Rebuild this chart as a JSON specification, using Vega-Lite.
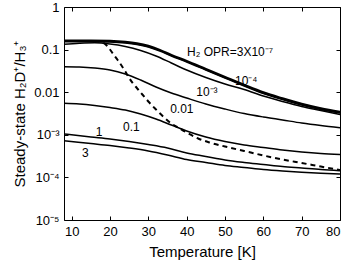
{
  "$schema": "https://vega.github.io/schema/vega-lite/v6.json",
  "autosize": "none",
  "width": 276,
  "height": 213,
  "padding": {"left": 64, "top": 7, "right": 6, "bottom": 43},
  "background": "white",
  "config": {
    "font": "Liberation Sans",
    "view": {"stroke": "black", "strokeWidth": 1},
    "axis": {"domainColor": "black", "tickColor": "black", "labelColor": "black", "titleColor": "black", "grid": false, "labelFont": "Liberation Sans", "titleFont": "Liberation Sans", "labelFontSize": 13, "titleFontSize": 15, "titleFontWeight": "normal"}
  },
  "datasets": {
    "curves": [
      {"s": "3e-7", "T": 8, "v": 0.1618}, {"s": "3e-7", "T": 15, "v": 0.1618}, {"s": "3e-7", "T": 20, "v": 0.1592}, {"s": "3e-7", "T": 24, "v": 0.1508}, {"s": "3e-7", "T": 27, "v": 0.139}, {"s": "3e-7", "T": 30, "v": 0.1215}, {"s": "3e-7", "T": 33, "v": 0.0979}, {"s": "3e-7", "T": 36, "v": 0.0747}, {"s": "3e-7", "T": 40, "v": 0.054}, {"s": "3e-7", "T": 45, "v": 0.035}, {"s": "3e-7", "T": 50, "v": 0.0227}, {"s": "3e-7", "T": 55, "v": 0.01476}, {"s": "3e-7", "T": 60, "v": 0.00984}, {"s": "3e-7", "T": 65, "v": 0.00711}, {"s": "3e-7", "T": 70, "v": 0.00528}, {"s": "3e-7", "T": 75, "v": 0.00414}, {"s": "3e-7", "T": 80, "v": 0.00343},
      {"s": "1e-4", "T": 8, "v": 0.1537}, {"s": "1e-4", "T": 15, "v": 0.1537}, {"s": "1e-4", "T": 20, "v": 0.1512}, {"s": "1e-4", "T": 24, "v": 0.1433}, {"s": "1e-4", "T": 27, "v": 0.1321}, {"s": "1e-4", "T": 30, "v": 0.1154}, {"s": "1e-4", "T": 33, "v": 0.093}, {"s": "1e-4", "T": 36, "v": 0.071}, {"s": "1e-4", "T": 40, "v": 0.0513}, {"s": "1e-4", "T": 45, "v": 0.0333}, {"s": "1e-4", "T": 50, "v": 0.0216}, {"s": "1e-4", "T": 55, "v": 0.01402}, {"s": "1e-4", "T": 60, "v": 0.00935}, {"s": "1e-4", "T": 65, "v": 0.00675}, {"s": "1e-4", "T": 70, "v": 0.00502}, {"s": "1e-4", "T": 75, "v": 0.00393}, {"s": "1e-4", "T": 80, "v": 0.00326},
      {"s": "1e-3", "T": 8, "v": 0.1332}, {"s": "1e-3", "T": 12, "v": 0.1405}, {"s": "1e-3", "T": 16, "v": 0.1444}, {"s": "1e-3", "T": 20, "v": 0.1353}, {"s": "1e-3", "T": 24, "v": 0.1183}, {"s": "1e-3", "T": 28, "v": 0.0953}, {"s": "1e-3", "T": 32, "v": 0.0707}, {"s": "1e-3", "T": 36, "v": 0.0485}, {"s": "1e-3", "T": 40, "v": 0.0332}, {"s": "1e-3", "T": 45, "v": 0.0221}, {"s": "1e-3", "T": 50, "v": 0.01558}, {"s": "1e-3", "T": 55, "v": 0.01157}, {"s": "1e-3", "T": 60, "v": 0.00814}, {"s": "1e-3", "T": 65, "v": 0.00605}, {"s": "1e-3", "T": 70, "v": 0.00462}, {"s": "1e-3", "T": 75, "v": 0.00372}, {"s": "1e-3", "T": 80, "v": 0.003},
      {"s": "0.01", "T": 8, "v": 0.0397}, {"s": "0.01", "T": 12, "v": 0.0391}, {"s": "0.01", "T": 16, "v": 0.037}, {"s": "0.01", "T": 20, "v": 0.0332}, {"s": "0.01", "T": 24, "v": 0.0267}, {"s": "0.01", "T": 28, "v": 0.0193}, {"s": "0.01", "T": 32, "v": 0.01325}, {"s": "0.01", "T": 36, "v": 0.00958}, {"s": "0.01", "T": 40, "v": 0.00731}, {"s": "0.01", "T": 45, "v": 0.00528}, {"s": "0.01", "T": 50, "v": 0.00403}, {"s": "0.01", "T": 55, "v": 0.00316}, {"s": "0.01", "T": 60, "v": 0.00262}, {"s": "0.01", "T": 65, "v": 0.00223}, {"s": "0.01", "T": 70, "v": 0.00189}, {"s": "0.01", "T": 75, "v": 0.00165}, {"s": "0.01", "T": 80, "v": 0.00147},
      {"s": "0.1", "T": 8, "v": 0.00549}, {"s": "0.1", "T": 12, "v": 0.00528}, {"s": "0.1", "T": 16, "v": 0.00487}, {"s": "0.1", "T": 20, "v": 0.00437}, {"s": "0.1", "T": 24, "v": 0.00382}, {"s": "0.1", "T": 28, "v": 0.00308}, {"s": "0.1", "T": 32, "v": 0.00235}, {"s": "0.1", "T": 36, "v": 0.0017}, {"s": "0.1", "T": 40, "v": 0.00123}, {"s": "0.1", "T": 45, "v": 0.000888}, {"s": "0.1", "T": 50, "v": 0.000696}, {"s": "0.1", "T": 55, "v": 0.000576}, {"s": "0.1", "T": 60, "v": 0.000503}, {"s": "0.1", "T": 65, "v": 0.00044}, {"s": "0.1", "T": 70, "v": 0.000395}, {"s": "0.1", "T": 75, "v": 0.000364}, {"s": "0.1", "T": 80, "v": 0.000345},
      {"s": "1", "T": 8, "v": 0.001044}, {"s": "1", "T": 15, "v": 0.000888}, {"s": "1", "T": 20, "v": 0.000797}, {"s": "1", "T": 25, "v": 0.000696}, {"s": "1", "T": 30, "v": 0.000592}, {"s": "1", "T": 35, "v": 0.00049}, {"s": "1", "T": 40, "v": 0.000374}, {"s": "1", "T": 45, "v": 0.00031}, {"s": "1", "T": 50, "v": 0.000256}, {"s": "1", "T": 55, "v": 0.000224}, {"s": "1", "T": 60, "v": 0.000201}, {"s": "1", "T": 65, "v": 0.00018}, {"s": "1", "T": 70, "v": 0.000166}, {"s": "1", "T": 75, "v": 0.000153}, {"s": "1", "T": 80, "v": 0.000144},
      {"s": "3", "T": 8, "v": 0.000727}, {"s": "3", "T": 15, "v": 0.000625}, {"s": "3", "T": 20, "v": 0.000561}, {"s": "3", "T": 25, "v": 0.00049}, {"s": "3", "T": 30, "v": 0.000417}, {"s": "3", "T": 35, "v": 0.000336}, {"s": "3", "T": 40, "v": 0.000263}, {"s": "3", "T": 45, "v": 0.000224}, {"s": "3", "T": 50, "v": 0.00019}, {"s": "3", "T": 55, "v": 0.000171}, {"s": "3", "T": 60, "v": 0.000153}, {"s": "3", "T": 65, "v": 0.000141}, {"s": "3", "T": 70, "v": 0.000132}, {"s": "3", "T": 75, "v": 0.000125}, {"s": "3", "T": 80, "v": 0.00012},
      {"s": "dashed", "T": 16, "v": 0.1592}, {"s": "dashed", "T": 18, "v": 0.1468}, {"s": "dashed", "T": 19, "v": 0.1282}, {"s": "dashed", "T": 20, "v": 0.1005}, {"s": "dashed", "T": 21, "v": 0.0747}, {"s": "dashed", "T": 22, "v": 0.057}, {"s": "dashed", "T": 23, "v": 0.0423}, {"s": "dashed", "T": 24, "v": 0.0306}, {"s": "dashed", "T": 25, "v": 0.02154}, {"s": "dashed", "T": 26, "v": 0.016}, {"s": "dashed", "T": 27, "v": 0.01255}, {"s": "dashed", "T": 28, "v": 0.00984}, {"s": "dashed", "T": 29, "v": 0.00772}, {"s": "dashed", "T": 30, "v": 0.00605}, {"s": "dashed", "T": 32, "v": 0.00393}, {"s": "dashed", "T": 34, "v": 0.00262}, {"s": "dashed", "T": 36, "v": 0.00184}, {"s": "dashed", "T": 38, "v": 0.00144}, {"s": "dashed", "T": 40, "v": 0.00113}, {"s": "dashed", "T": 43, "v": 0.000819}, {"s": "dashed", "T": 46, "v": 0.00066}, {"s": "dashed", "T": 50, "v": 0.000531}, {"s": "dashed", "T": 55, "v": 0.000417}, {"s": "dashed", "T": 60, "v": 0.000327}, {"s": "dashed", "T": 65, "v": 0.000263}, {"s": "dashed", "T": 70, "v": 0.000218}, {"s": "dashed", "T": 75, "v": 0.00018}, {"s": "dashed", "T": 80, "v": 0.000149}
    ],
    "labels": [
      {"t": "H₂ OPR=3X10⁻⁷", "T": 40.1, "v": 0.0879},
      {"t": "10⁻⁴", "T": 52.6, "v": 0.0183},
      {"t": "10⁻³", "T": 42.5, "v": 0.0101},
      {"t": "0.01", "T": 35.7, "v": 0.00403},
      {"t": "0.1", "T": 23.4, "v": 0.00152},
      {"t": "1", "T": 16.3, "v": 0.00119},
      {"t": "3", "T": 12.7, "v": 0.000384}
    ]
  },
  "layer": [
    {
      "data": {"name": "curves"},
      "transform": [{"filter": "datum.s != '3e-7' && datum.s != 'dashed'"}],
      "mark": {"type": "line", "color": "black", "strokeWidth": 1.5, "interpolate": "monotone", "clip": true},
      "encoding": {
        "x": {"field": "T", "type": "quantitative", "scale": {"domain": [8, 80], "nice": false, "zero": false},
          "axis": {"orient": "bottom", "values": [10, 20, 30, 40, 50, 60, 70, 80], "tickSize": -4, "labelPadding": 9, "title": "Temperature [K]", "titlePadding": 6, "domain": false}},
        "y": {"field": "v", "type": "quantitative", "scale": {"type": "log", "domain": [0.00001, 1], "nice": false},
          "axis": {"orient": "left", "values": [1, 0.1, 0.01, 0.001, 0.0001, 0.00001], "tickSize": -4, "labelPadding": 9,
            "labelExpr": "['1','0.1','0.01','10⁻³','10⁻⁴','10⁻⁵'][round(-log(datum.value)/LN10)]",
            "title": "Steady-state H₂D⁺/H₃⁺", "titlePadding": 6, "domain": false}},
        "detail": {"field": "s"}
      }
    },
    {
      "data": {"name": "curves"},
      "transform": [{"filter": "datum.s == '3e-7'"}],
      "mark": {"type": "line", "color": "black", "strokeWidth": 2.4, "interpolate": "monotone", "clip": true},
      "encoding": {
        "x": {"field": "T", "type": "quantitative", "axis": {"orient": "top", "values": [10, 20, 30, 40, 50, 60, 70, 80], "tickSize": -4, "labels": false, "title": null, "domain": false}},
        "y": {"field": "v", "type": "quantitative", "axis": {"orient": "right", "values": [1, 0.1, 0.01, 0.001, 0.0001, 0.00001], "tickSize": -4, "labels": false, "title": null, "domain": false}}
      }
    },
    {
      "data": {"name": "curves"},
      "transform": [{"filter": "datum.s == 'dashed'"}],
      "mark": {"type": "line", "color": "black", "strokeWidth": 2, "strokeDash": [5, 4], "interpolate": "monotone", "clip": true},
      "encoding": {
        "x": {"field": "T", "type": "quantitative", "axis": null},
        "y": {"field": "v", "type": "quantitative", "axis": null}
      }
    },
    {
      "data": {"name": "labels"},
      "mark": {"type": "text", "align": "left", "baseline": "middle", "fontSize": 12, "font": "Liberation Sans", "color": "black"},
      "encoding": {
        "x": {"field": "T", "type": "quantitative", "axis": null},
        "y": {"field": "v", "type": "quantitative", "axis": null},
        "text": {"field": "t"}
      }
    }
  ],
  "resolve": {"axis": {"x": "independent", "y": "independent"}}
}
